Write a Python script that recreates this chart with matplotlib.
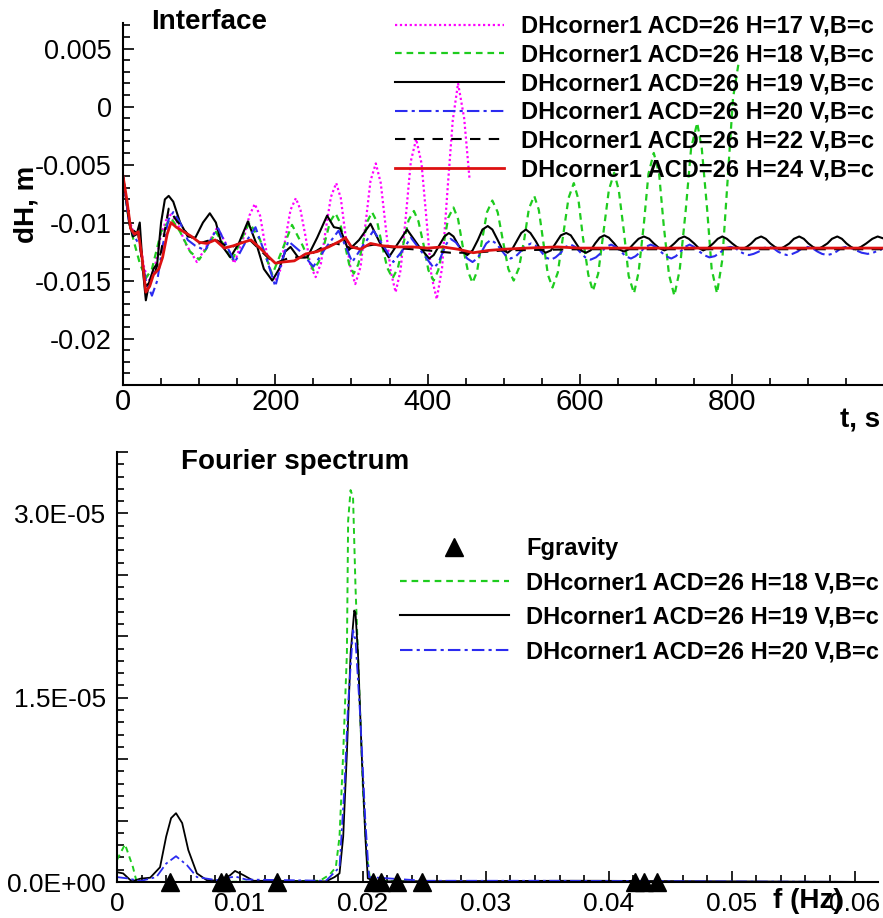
import matplotlib
matplotlib.use('Agg')
import matplotlib.pyplot as plt
import numpy as np
from matplotlib.ticker import MultipleLocator, FuncFormatter
from matplotlib.lines import Line2D

plt.rcParams['font.family'] = ['Liberation Sans', 'DejaVu Sans']

# ---- Interface time series (t in s, dH in m) ----
t17 = [0, 8, 15, 20, 28, 35, 42, 50, 60, 70, 82, 97, 110, 124, 135, 146, 160, 166, 173,
       180, 186, 193, 200, 207, 213, 220, 227, 233, 240, 246, 253, 260, 266, 273, 280,
       286, 292, 299, 305, 312, 318.5, 325, 332, 338.5, 345, 351.5, 358, 364.5, 371.5,
       378, 385, 392, 398.5, 405, 412, 419, 426, 433, 440, 448, 455]
h17 = [-0.0060, -0.0098, -0.0110, -0.0108, -0.0140, -0.0150, -0.0138, -0.0110, -0.0092,
       -0.0098, -0.0118, -0.0134, -0.0120, -0.0104, -0.0118, -0.0135, -0.0110, -0.0094,
       -0.0084, -0.0094, -0.0117, -0.0140, -0.0150, -0.0140, -0.0115, -0.0089, -0.0079,
       -0.0089, -0.0113, -0.0137, -0.0147, -0.0135, -0.0107, -0.0078, -0.0066, -0.0079,
       -0.0110, -0.0140, -0.0153, -0.0138, -0.0101, -0.0064, -0.0049, -0.0066, -0.0104,
       -0.0142, -0.0160, -0.0141, -0.0094, -0.0047, -0.0028, -0.0049, -0.0097, -0.0146,
       -0.0166, -0.0139, -0.0073, -0.0012, 0.0020, -0.0010, -0.0062]

t18 = [0, 8, 15, 22, 30, 38, 50, 63, 75, 88, 100, 112, 122, 133, 143, 155, 166, 180, 196,
       210, 222, 236, 250, 257, 265, 272, 279, 285, 291, 297, 303, 309, 315, 321, 327,
       334, 340, 347, 354, 361, 368, 375, 382, 388, 395, 401, 408, 414, 421, 427, 434,
       440, 446, 453, 459, 465, 471, 478, 485, 492, 499, 506, 513, 520, 527, 533, 540,
       546, 552, 558, 564, 571, 578, 585, 592, 598, 604, 611, 617, 624, 631, 638, 645,
       651, 658, 664, 671, 677, 684, 690, 697, 704, 710, 717, 724, 731, 739, 746, 754,
       760, 767, 773, 780, 787, 794, 801, 808]
h18 = [-0.0060, -0.0100, -0.0118, -0.0135, -0.0148, -0.0140, -0.0108, -0.0096, -0.0108,
       -0.0125, -0.0132, -0.0120, -0.0108, -0.0120, -0.0133, -0.0115, -0.0100, -0.0115,
       -0.0145, -0.0122, -0.0102, -0.0120, -0.0141, -0.0134, -0.0117, -0.0099, -0.0092,
       -0.0100, -0.0118, -0.0136, -0.0144, -0.0136, -0.0118, -0.0099, -0.0091, -0.0100,
       -0.0119, -0.0139, -0.0148, -0.0139, -0.0119, -0.0098, -0.0090, -0.0099, -0.0120,
       -0.0141, -0.0150, -0.0141, -0.0119, -0.0096, -0.0087, -0.0097, -0.0120, -0.0142,
       -0.0152, -0.0142, -0.0117, -0.0091, -0.0081, -0.0091, -0.0116, -0.0140, -0.0150,
       -0.0139, -0.0114, -0.0088, -0.0077, -0.0089, -0.0117, -0.0145, -0.0156, -0.0143,
       -0.0111, -0.0079, -0.0066, -0.0080, -0.0113, -0.0145, -0.0159, -0.0144, -0.0108,
       -0.0072, -0.0057, -0.0072, -0.0109, -0.0146, -0.0161, -0.0143, -0.0101, -0.0058,
       -0.0040, -0.0058, -0.0102, -0.0145, -0.0163, -0.0141, -0.0089, -0.0036, -0.0014,
       -0.0036, -0.0088, -0.0140, -0.0161, -0.0132, -0.0063, 0.0007, 0.0036]

t19 = [0, 8, 13, 18, 22, 26, 30, 35, 40, 45, 50, 55, 60, 66, 75, 85, 95, 105, 114, 122,
       130, 141, 152, 164, 175, 185, 196, 205, 213, 220, 230, 242, 255, 268, 277, 285,
       296, 310, 325, 337, 349, 361, 373, 388, 402, 408, 415, 422, 428, 434, 440, 446,
       452, 459, 466, 472, 479, 485, 492, 498, 505, 511, 517, 523, 529, 535, 542, 548,
       555, 562, 568, 575, 582, 588, 595, 601, 608, 614, 620, 626, 632, 638, 645, 651,
       658, 664, 671, 677, 684, 691, 697, 704, 711, 717, 724, 730, 737, 743, 750, 756,
       762, 768, 775, 781, 787, 793, 800, 806, 813, 819, 825, 831, 838, 844, 850, 856,
       862, 868, 875, 881, 888, 894, 900, 906, 912, 918, 925, 931, 938, 944, 950, 956,
       962, 969, 976, 984, 991, 1000]
h19 = [-0.0060, -0.0100, -0.0112, -0.0110, -0.0100, -0.0140, -0.0167, -0.0150, -0.0140,
       -0.0135, -0.0100, -0.0080, -0.0077, -0.0082, -0.0100, -0.0112, -0.0113, -0.0100,
       -0.0092, -0.0100, -0.0120, -0.0130, -0.0118, -0.0099, -0.0118, -0.0140, -0.0150,
       -0.0140, -0.0125, -0.0121, -0.0130, -0.0130, -0.0113, -0.0094, -0.0104, -0.0105,
       -0.0124, -0.0115, -0.0101, -0.0117, -0.0130, -0.0118, -0.0106, -0.0120, -0.0131,
       -0.0128, -0.0120, -0.0112, -0.0109, -0.0112, -0.0119, -0.0125, -0.0128, -0.0124,
       -0.0115, -0.0106, -0.0103, -0.0106, -0.0115, -0.0123, -0.0126, -0.0123, -0.0116,
       -0.0109, -0.0106, -0.0109, -0.0116, -0.0123, -0.0126, -0.0124, -0.0118, -0.0111,
       -0.0109, -0.0111, -0.0118, -0.0124, -0.0126, -0.0124, -0.0118, -0.0113, -0.0111,
       -0.0113, -0.0118, -0.0123, -0.0125, -0.0123, -0.0118, -0.0114, -0.0112, -0.0114,
       -0.0118, -0.0122, -0.0124, -0.0122, -0.0118, -0.0114, -0.0112, -0.0114, -0.0118,
       -0.0122, -0.0124, -0.0122, -0.0118, -0.0114, -0.0112, -0.0114, -0.0118, -0.0121,
       -0.0123, -0.0121, -0.0118, -0.0114, -0.0112, -0.0114, -0.0118, -0.0121, -0.0123,
       -0.0121, -0.0118, -0.0114, -0.0112, -0.0114, -0.0118, -0.0121, -0.0123, -0.0121,
       -0.0118, -0.0114, -0.0112, -0.0114, -0.0118, -0.0121, -0.0123, -0.0121, -0.0118,
       -0.0114, -0.0112, -0.0114]

t20 = [0, 8, 15, 22, 30, 38, 45, 52, 60, 66, 75, 85, 95, 108, 117, 125, 136, 147, 160,
       174, 187, 200, 208, 217, 233, 250, 266, 283, 292, 301, 315, 329, 342, 355, 366,
       378, 393, 408, 414, 419, 425, 430, 437, 445, 452, 459, 465, 471, 477, 483, 490,
       496, 502, 509, 516, 522, 529, 536, 542, 549, 555, 562, 568, 575, 581, 588, 594,
       601, 607, 614, 621, 628, 634, 641, 647, 654, 660, 667, 673, 680, 686, 693, 700,
       706, 713, 720, 726, 732, 738, 744, 750, 757, 763, 770, 777, 784, 791, 798, 804,
       810, 816, 822, 828, 835, 841, 848, 854, 860, 866, 872, 879, 886, 892, 899, 905,
       912, 918, 925, 931, 937, 943, 949, 956, 963, 970, 978, 985, 992, 1000]
h20 = [-0.0060, -0.0100, -0.0112, -0.0120, -0.0150, -0.0163, -0.0150, -0.0120, -0.0097,
       -0.0091, -0.0100, -0.0115, -0.0120, -0.0124, -0.0112, -0.0105, -0.0120, -0.0134,
       -0.0118, -0.0104, -0.0128, -0.0155, -0.0135, -0.0116, -0.0125, -0.0138, -0.0122,
       -0.0107, -0.0120, -0.0134, -0.0120, -0.0107, -0.0120, -0.0134, -0.0125, -0.0113,
       -0.0126, -0.0139, -0.0135, -0.0127, -0.0118, -0.0114, -0.0117, -0.0124, -0.0131,
       -0.0134, -0.0131, -0.0125, -0.0118, -0.0115, -0.0118, -0.0123, -0.0128, -0.0131,
       -0.0129, -0.0125, -0.0120, -0.0118, -0.0120, -0.0125, -0.0130, -0.0132, -0.0130,
       -0.0126, -0.0121, -0.0119, -0.0121, -0.0126, -0.0130, -0.0132, -0.0130, -0.0126,
       -0.0121, -0.0119, -0.0121, -0.0125, -0.0129, -0.0131, -0.0129, -0.0125, -0.0121,
       -0.0119, -0.0121, -0.0125, -0.0129, -0.0131, -0.0129, -0.0125, -0.0121, -0.0119,
       -0.0121, -0.0125, -0.0128, -0.0130, -0.0129, -0.0126, -0.0122, -0.0121, -0.0122,
       -0.0125, -0.0127, -0.0128, -0.0127, -0.0125, -0.0122, -0.0121, -0.0122, -0.0125,
       -0.0127, -0.0128, -0.0127, -0.0125, -0.0122, -0.0121, -0.0122, -0.0125, -0.0127,
       -0.0128, -0.0127, -0.0125, -0.0122, -0.0121, -0.0122, -0.0124, -0.0126, -0.0127,
       -0.0126, -0.0124, -0.0122]

t22 = [0, 10, 20, 30, 40, 50, 60, 70, 85, 100, 120, 140, 165, 190, 200, 220, 240, 260,
       280, 300, 330, 360, 400, 430, 460, 500, 600, 700, 1000]
h22 = [-0.0060, -0.0105, -0.0110, -0.0155, -0.0148, -0.0125, -0.0088, -0.0098, -0.0110,
       -0.0118, -0.0114, -0.0122, -0.0114, -0.0130, -0.0135, -0.0130, -0.0130, -0.0122,
       -0.0118, -0.0122, -0.0119, -0.0122, -0.0124, -0.0126, -0.0126, -0.0124, -0.0123,
       -0.0123, -0.0123]

t24 = [0, 5, 10, 15, 20, 25, 30, 35, 40, 47, 52, 58, 63, 70, 80, 90, 100, 110, 121, 133,
       145, 158, 168, 180, 192, 200, 210, 225, 240, 255, 270, 285, 292, 300, 312, 325,
       340, 360, 380, 400, 420, 440, 460, 480, 500, 530, 570, 600, 650, 700, 800, 900,
       1000]
h24 = [-0.0060, -0.0080, -0.0105, -0.0110, -0.0108, -0.0130, -0.0160, -0.0155, -0.0145,
       -0.0140, -0.0130, -0.0110, -0.0100, -0.0104, -0.0108, -0.0112, -0.0117, -0.0118,
       -0.0115, -0.0122, -0.0120, -0.0117, -0.0115, -0.0122, -0.0130, -0.0135, -0.0134,
       -0.0133, -0.0127, -0.0125, -0.0121, -0.0116, -0.0113, -0.0121, -0.0123, -0.0118,
       -0.0120, -0.0121, -0.0121, -0.0122, -0.0121, -0.0123, -0.0126, -0.0124, -0.0123,
       -0.0122, -0.0121, -0.0122, -0.0122, -0.0122, -0.0122, -0.0122, -0.0122]

# ---- Fourier spectra (f in Hz) ----
f18 = [0, 0.00065, 0.0013, 0.0016, 0.003, 0.008, 0.0165, 0.0173, 0.0178, 0.0181, 0.0184,
       0.0187, 0.0188, 0.0190, 0.0192, 0.0194, 0.0197, 0.0200, 0.0203, 0.0206, 0.025,
       0.0619]
a18 = [1.8e-6, 3.07e-6, 1.2e-6, 0.0, 0.0, 0.0, 0.1e-6, 0.6e-6, 1.2e-6, 3.7e-6, 1.05e-5,
       1.86e-5, 2.94e-5, 3.19e-5, 3.13e-5, 2.4e-5, 1.59e-5, 7.7e-6, 2.3e-6, 0.1e-6, 0.0,
       0.0]

f19 = [0, 0.0005, 0.0012, 0.0019, 0.0027, 0.0035, 0.0040, 0.0044, 0.0048, 0.0053, 0.0058,
       0.0065, 0.0073, 0.0084, 0.0092, 0.0096, 0.0103, 0.0111, 0.0170, 0.0177, 0.0181,
       0.0184, 0.0187, 0.0190, 0.0193, 0.0194, 0.0196, 0.0199, 0.0202, 0.0204, 0.0210,
       0.0370, 0.0390, 0.0619]
a19 = [0.8e-6, 0.7e-6, 0.05e-6, 0.27e-6, 0.35e-6, 1.2e-6, 3.7e-6, 5.2e-6, 5.6e-6, 4.8e-6,
       2.6e-6, 0.7e-6, 0.15e-6, 0.1e-6, 0.55e-6, 0.9e-6, 0.55e-6, 0.1e-6, 0.05e-6, 0.4e-6,
       0.7e-6, 3.7e-6, 1.05e-5, 1.86e-5, 2.21e-5, 2.19e-5, 1.86e-5, 1.05e-5, 3.7e-6,
       0.3e-6, 0.05e-6, 0.1e-6, 0.1e-6, 0.0]

f20 = [0, 0.0008, 0.0019, 0.0032, 0.0040, 0.0048, 0.0057, 0.0065, 0.0081, 0.0096, 0.0105,
       0.0170, 0.0181, 0.0185, 0.0188, 0.0192, 0.0194, 0.0198, 0.0202, 0.0205, 0.0250,
       0.0338, 0.0352, 0.0619]
a20 = [0.4e-6, 0.3e-6, 0.08e-6, 0.4e-6, 1.5e-6, 2.1e-6, 1.36e-6, 0.4e-6, 0.15e-6, 0.45e-6,
       0.2e-6, 0.1e-6, 1.2e-6, 7.7e-6, 1.45e-5, 2.05e-5, 1.97e-5, 1.32e-5, 5e-6, 0.4e-6,
       0.1e-6, 0.1e-6, 0.1e-6, 0.0]

fgrav = [0.0043, 0.0085, 0.0089, 0.0130, 0.0208, 0.0215, 0.0228, 0.0248, 0.0421, 0.0429,
         0.0439]

labels = ['DHcorner1 ACD=26 H=%s V,B=c' % h for h in ['17', '18', '19', '20', '22', '24']]

W, H = 883, 918
fig = plt.figure(figsize=(W / 100, H / 100), dpi=100)
ax1 = fig.add_axes([123 / W, 1 - 385 / H, 760 / W, 362 / H])
ax2 = fig.add_axes([117 / W, 1 - 882 / H, 761 / W, 430 / H])

c_mag, c_grn, c_blu, c_red = '#ff00ff', '#1ecc1e', '#2b2bf0', '#dd1111'
st17 = dict(color=c_mag, lw=1.6, ls=(0, (1, 1.2)))
st18 = dict(color=c_grn, lw=1.6, ls=(0, (3, 2.2)))
st19 = dict(color='k', lw=1.5, ls='-')
st20 = dict(color=c_blu, lw=1.5, ls=(0, (6, 2, 1.5, 2)))
st22 = dict(color='k', lw=1.5, ls=(0, (5, 4)))
st24 = dict(color=c_red, lw=2.0, ls='-')

ax1.plot(t17, h17, label=labels[0], **st17)
ax1.plot(t18, h18, label=labels[1], **st18)
ax1.plot(t19, h19, label=labels[2], **st19)
ax1.plot(t20, h20, label=labels[3], **st20)
ax1.plot(t22, h22, label=labels[4], **st22)
ax1.plot(t24, h24, label=labels[5], **st24)

ax1.set_xlim(0, 998)
ax1.set_ylim(-0.024, 0.0072)
ax1.xaxis.set_major_locator(MultipleLocator(200))
ax1.xaxis.set_minor_locator(MultipleLocator(50))
ax1.yaxis.set_major_locator(MultipleLocator(0.005))
ax1.yaxis.set_minor_locator(MultipleLocator(0.001))


def fmt_g(v, pos):
    if abs(v) < 1e-12:
        return '0'
    return ('%g' % round(v, 6))


ax1.xaxis.set_major_formatter(FuncFormatter(fmt_g))
ax1.yaxis.set_major_formatter(FuncFormatter(fmt_g))

# spectrum
ax2.plot(f18, a18, **dict(st18, lw=1.4))
ax2.plot(f19, a19, **dict(st19, lw=1.3))
ax2.plot(f20, a20, **dict(st20, lw=1.3))
ax2.plot(fgrav, np.zeros(len(fgrav)), ls='none', marker='^', ms=13, color='k',
         clip_on=False, zorder=5)

ax2.set_xlim(0, 0.0619)
ax2.set_ylim(0, 3.5e-5)
ax2.xaxis.set_major_locator(MultipleLocator(0.01))
ax2.xaxis.set_minor_locator(MultipleLocator(0.002))
ax2.yaxis.set_major_locator(MultipleLocator(5e-6))
ax2.yaxis.set_minor_locator(MultipleLocator(1e-6))
ax2.xaxis.set_major_formatter(FuncFormatter(fmt_g))


def fmt_e(v, pos):
    k = v / 1.5e-5
    if abs(k - round(k)) < 1e-6:
        return '%.1E' % v
    return ''


ax2.yaxis.set_major_formatter(FuncFormatter(fmt_e))

for ax in (ax1, ax2):
    ax.spines['top'].set_visible(False)
    ax.spines['right'].set_visible(False)
    ax.spines['left'].set_linewidth(1.5)
    ax.spines['bottom'].set_linewidth(1.5)
    ax.tick_params(which='both', direction='in', width=1.2)
    ax.tick_params(which='major', length=8)
    ax.tick_params(which='minor', length=5)
    ax.patch.set_alpha(0)

ax1.tick_params(axis='x', labelsize=21, pad=2)
ax1.tick_params(axis='y', labelsize=19.5, pad=8)
ax2.tick_params(axis='x', labelsize=19, pad=7)
ax2.tick_params(axis='y', labelsize=19, pad=8)

# legends
leg1 = ax1.legend(loc='upper left', bbox_to_anchor=(395 / W, 1 - 15 / H),
                  bbox_transform=fig.transFigure, frameon=False,
                  prop=dict(weight='bold', size=17), handlelength=4.6,
                  handletextpad=0.75, labelspacing=0.24, borderpad=0, borderaxespad=0)

hnd = [Line2D([], [], ls='none', marker='^', ms=13, color='k'),
       Line2D([], [], **st18), Line2D([], [], **st19), Line2D([], [], **st20)]
lab2 = ['Fgravity', labels[1], labels[2], labels[3]]
leg2 = ax2.legend(hnd, lab2, loc='upper left', bbox_to_anchor=(400 / W, 1 - 537 / H),
                  bbox_transform=fig.transFigure, frameon=False, numpoints=1,
                  prop=dict(weight='bold', size=17), handlelength=4.6,
                  handletextpad=0.75, labelspacing=0.48, borderpad=0, borderaxespad=0)

# titles and axis labels
fig.text(209 / W, 1 - 22 / H, 'Interface', ha='center', va='center',
         fontsize=20, fontweight='bold')
fig.text(295 / W, 1 - 462 / H, 'Fourier spectrum', ha='center', va='center',
         fontsize=20, fontweight='bold')
fig.text(26 / W, 1 - 204 / H, 'dH, m', ha='center', va='center', rotation=90,
         fontsize=20, fontweight='bold')
fig.text(860 / W, 1 - 421 / H, 't, s', ha='center', va='center',
         fontsize=20, fontweight='bold')
fig.text(808 / W, 1 - 901 / H, 'f (Hz)', ha='center', va='center',
         fontsize=20, fontweight='bold')

fig.savefig('out.png', dpi=100)
